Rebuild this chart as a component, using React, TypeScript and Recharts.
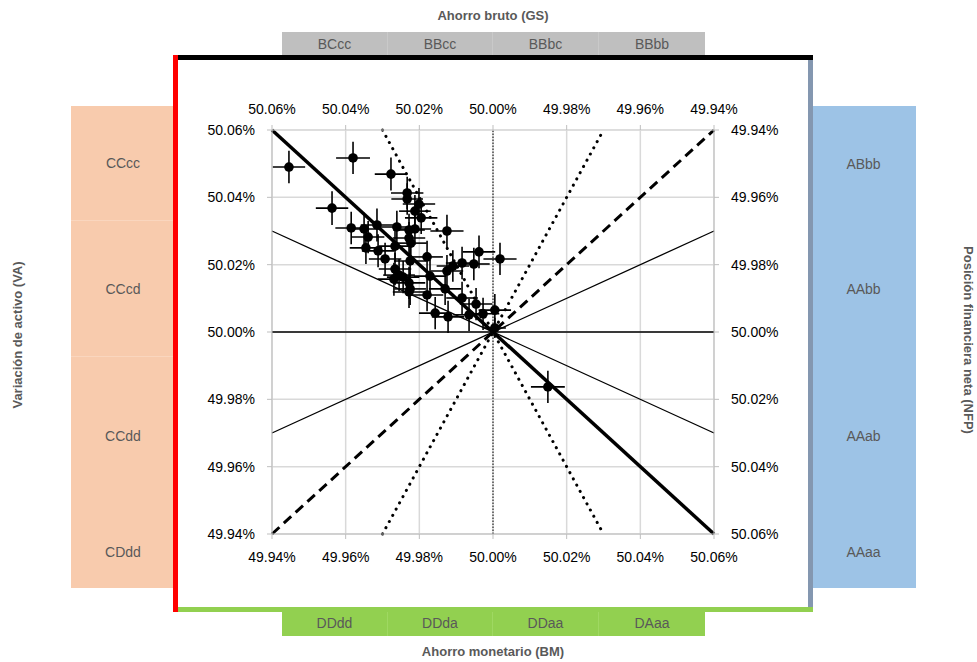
import {
  ScatterChart,
  Scatter,
  XAxis,
  YAxis,
  ZAxis,
  CartesianGrid,
  ErrorBar,
  ReferenceLine,
} from "recharts";

// tick values (same scale on all four sides, top and right run backwards)
const xTicks = [49.94, 49.96, 49.98, 50.0, 50.02, 50.04, 50.06];
const yTicks = [49.94, 49.96, 49.98, 50.0, 50.02, 50.04, 50.06];

// Ahorro monetario (BM) on x, Variación de activo (VA) on y, in %
const bmValues = [
  49.9446, 49.962, 49.9723, 49.9767, 49.9767, 49.9799, 49.9788, 49.9805,
  49.9563, 49.9615, 49.965, 49.9685, 49.9739, 49.9772, 49.9788, 49.9875,
  49.9661, 49.9772, 49.9777, 49.9655, 49.9688, 49.9734, 49.9707, 49.9821,
  49.9775, 49.9962, 50.0019, 49.9916, 49.9948, 49.9891, 49.9875, 49.9734,
  49.9745, 49.9756, 49.9731, 49.9772, 49.9775, 49.9772, 49.9829, 49.9821,
  49.987, 49.9916, 49.9954, 49.9843, 49.9878, 49.9935, 49.9973, 50.0005,
  50.0005, 50.0149,
];
const vaValues = [
  50.049, 50.0517, 50.0469, 50.0413, 50.0395, 50.038, 50.0359, 50.0339,
  50.0368, 50.0309, 50.0306, 50.0318, 50.0312, 50.0303, 50.0306, 50.03,
  50.0282, 50.0279, 50.0264, 50.025, 50.0241, 50.0255, 50.0217, 50.0223,
  50.0211, 50.0238, 50.0217, 50.0205, 50.0202, 50.0196, 50.0181, 50.0187,
  50.0169, 50.0163, 50.0157, 50.0146, 50.0128, 50.0119, 50.0166, 50.011,
  50.0128, 50.0101, 50.0083, 50.0056, 50.0045, 50.0051, 50.0054, 50.0065,
  50.0012, 49.9837,
];
const bmErrors = [
  0.0044, 0.0046, 0.0044, 0.0044, 0.0043, 0.0044, 0.0043, 0.0044,
  0.0044, 0.0043, 0.0044, 0.0044, 0.0044, 0.0043, 0.0044, 0.0045,
  0.0044, 0.0044, 0.0043, 0.0044, 0.0044, 0.0044, 0.0044, 0.0043,
  0.0044, 0.0044, 0.0045, 0.0044, 0.0043, 0.0044, 0.0044, 0.0044,
  0.0043, 0.0044, 0.0044, 0.0044, 0.0043, 0.0044, 0.0044, 0.0044,
  0.0044, 0.0043, 0.0044, 0.0044, 0.0044, 0.0043, 0.0044, 0.0044,
  0.003, 0.0046,
];
const vaErrors = [
  0.0048, 0.0048, 0.0049, 0.0048, 0.0047, 0.0048, 0.0048, 0.0048,
  0.005, 0.0048, 0.0048, 0.0049, 0.0048, 0.0048, 0.0047, 0.0048,
  0.0048, 0.0048, 0.0048, 0.0048, 0.0049, 0.0048, 0.0048, 0.0048,
  0.0048, 0.0049, 0.0048, 0.0048, 0.0048, 0.0047, 0.0048, 0.0048,
  0.0048, 0.0048, 0.0049, 0.0048, 0.0048, 0.0048, 0.0048, 0.0048,
  0.0048, 0.0048, 0.0048, 0.0048, 0.0048, 0.0048, 0.0048, 0.0048,
  0.003, 0.0048,
];

// guide lines through (50%, 50%), as end points
const mainDiagonal = [
  { x: 49.94, y: 50.06 },
  { x: 50.06, y: 49.94 },
];
const dashedDiagonal = [
  { x: 49.94, y: 49.94 },
  { x: 50.06, y: 50.06 },
];
const dottedSteepDown = [
  { x: 49.97, y: 50.06 },
  { x: 50.03, y: 49.94 },
];
const dottedSteepUp = [
  { x: 49.97, y: 49.94 },
  { x: 50.03, y: 50.06 },
];
const thinShallowDown = [
  { x: 49.94, y: 50.03 },
  { x: 50.06, y: 49.97 },
];
const thinShallowUp = [
  { x: 49.94, y: 49.97 },
  { x: 50.06, y: 50.03 },
];
const thinFlat = [
  { x: 49.94, y: 50.0 },
  { x: 50.06, y: 50.0 },
];
const centerX = 50.0;

// labels around the frame
const topCells = ["BCcc", "BBcc", "BBbc", "BBbb"];
const bottomCells = ["DDdd", "DDda", "DDaa", "DAaa"];
const leftCells = ["CCcc", "CCcd", "CCdd", "CDdd"];
const rightCells = ["ABbb", "AAbb", "AAab", "AAaa"];

const points = bmValues.map((x, i) => ({
  x,
  y: vaValues[i],
  ex: bmErrors[i],
  ey: vaErrors[i],
}));

const FONT = "'Liberation Sans', Arial, sans-serif";
const fmt = (v: number) => `${v.toFixed(2)}%`;
const tickStyle = { fill: "#000", fontSize: 14, fontFamily: FONT };
const rowEdges = [106, 221, 357, 515, 588];
const colEdges = [282, 388, 493, 599, 705];

const cellText = {
  color: "#595959",
  fontSize: 14,
  fontFamily: FONT,
  display: "flex",
  alignItems: "center",
  justifyContent: "center",
};
const titleText = {
  position: "absolute" as const,
  color: "#595959",
  fontSize: 13,
  fontWeight: 700,
  fontFamily: FONT,
  textAlign: "center" as const,
  width: 300,
  height: 20,
  lineHeight: "20px",
};

function Dot(props: any) {
  return <circle cx={props.cx} cy={props.cy} r={4.8} fill="#000" />;
}

export default function App() {
  return (
    <div
      style={{
        position: "absolute",
        left: 0,
        top: 0,
        width: 977,
        height: 662,
        background: "#fff",
        fontFamily: FONT,
      }}
    >
      {/* row / column boxes */}
      {topCells.map((t, i) => (
        <div
          key={t}
          style={{
            ...cellText,
            position: "absolute",
            left: colEdges[i],
            top: 32,
            width: colEdges[i + 1] - colEdges[i],
            height: 24,
            background: "#bfbfbf",
            borderRight: i < 3 ? "1px solid #c9c9c9" : "none",
            boxSizing: "border-box",
          }}
        >
          {t}
        </div>
      ))}
      {bottomCells.map((t, i) => (
        <div
          key={t}
          style={{
            ...cellText,
            position: "absolute",
            left: colEdges[i],
            top: 610,
            width: colEdges[i + 1] - colEdges[i],
            height: 26,
            background: "#92d050",
            borderRight: i < 3 ? "1px solid #9fd862" : "none",
            boxSizing: "border-box",
          }}
        >
          {t}
        </div>
      ))}
      {leftCells.map((t, i) => (
        <div
          key={t}
          style={{
            ...cellText,
            position: "absolute",
            left: 71,
            top: rowEdges[i],
            width: 104,
            height: rowEdges[i + 1] - rowEdges[i],
            background: "#f8cbad",
            borderBottom: i < 2 ? "1px solid #fad6be" : "none",
            boxSizing: "border-box",
          }}
        >
          {t}
        </div>
      ))}
      {rightCells.map((t, i) => (
        <div
          key={t}
          style={{
            ...cellText,
            position: "absolute",
            left: 811,
            top: rowEdges[i],
            width: 105,
            height: rowEdges[i + 1] - rowEdges[i],
            background: "#9dc3e6",
            boxSizing: "border-box",
          }}
        >
          {t}
        </div>
      ))}

      {/* frame */}
      <div style={{ position: "absolute", left: 173, top: 55, width: 640, height: 5, background: "#000" }} />
      <div style={{ position: "absolute", left: 173, top: 607, width: 640, height: 5, background: "#92d050" }} />
      <div style={{ position: "absolute", left: 173, top: 55, width: 5, height: 557, background: "#ff0000" }} />
      <div style={{ position: "absolute", left: 808, top: 60, width: 5, height: 547, background: "#8497b0" }} />

      {/* axis titles */}
      <div style={{ ...titleText, left: 343, top: 6 }}>Ahorro bruto (GS)</div>
      <div style={{ ...titleText, left: 343, top: 642 }}>Ahorro monetario (BM)</div>
      <div style={{ ...titleText, left: 18 - 150, top: 335 - 10, transform: "rotate(-90deg)" }}>
        Variación de activo (VA)
      </div>
      <div style={{ ...titleText, left: 968 - 150, top: 340 - 10, transform: "rotate(90deg)" }}>
        Posición financiera neta (NFP)
      </div>

      <div style={{ position: "absolute", left: 0, top: 0 }}>
        <ScatterChart
          width={977}
          height={662}
          margin={{ top: 100, right: 203, bottom: 98, left: 212 }}
        >
          <CartesianGrid stroke="#d9d9d9" strokeWidth={1.5} />
          <XAxis
            type="number"
            dataKey="x"
            domain={[49.94, 50.06]}
            ticks={xTicks}
            interval={0}
            tickFormatter={fmt}
            tick={tickStyle}
            tickSize={5}
            tickMargin={13}
            height={30}
            axisLine={{ stroke: "#bfbfbf" }}
            tickLine={{ stroke: "#bfbfbf" }}
            allowDataOverflow
          />
          <YAxis
            type="number"
            dataKey="y"
            domain={[49.94, 50.06]}
            ticks={yTicks}
            interval={0}
            tickFormatter={fmt}
            tick={tickStyle}
            tickSize={5}
            tickMargin={12}
            width={60}
            axisLine={{ stroke: "#bfbfbf" }}
            tickLine={{ stroke: "#bfbfbf" }}
            allowDataOverflow
          />
          <XAxis
            xAxisId="top"
            orientation="top"
            type="number"
            dataKey="x"
            domain={[49.94, 50.06]}
            reversed
            ticks={xTicks}
            interval={0}
            tickFormatter={fmt}
            tick={tickStyle}
            tickSize={5}
            tickMargin={11}
            height={30}
            axisLine={{ stroke: "#d9d9d9" }}
            tickLine={{ stroke: "#bfbfbf" }}
            allowDataOverflow
          />
          <YAxis
            yAxisId="right"
            orientation="right"
            type="number"
            dataKey="y"
            domain={[49.94, 50.06]}
            reversed
            ticks={yTicks}
            interval={0}
            tickFormatter={fmt}
            tick={tickStyle}
            tickSize={5}
            tickMargin={12}
            width={60}
            axisLine={{ stroke: "#bfbfbf" }}
            tickLine={{ stroke: "#bfbfbf" }}
            allowDataOverflow
          />
          <ZAxis range={[70, 70]} />

          <ReferenceLine x={centerX} stroke="#000" strokeWidth={1} strokeDasharray="1.5 1.5" />
          <ReferenceLine segment={thinFlat} stroke="#000" strokeWidth={1.3} />
          <ReferenceLine segment={thinShallowDown} stroke="#000" strokeWidth={1.3} />
          <ReferenceLine segment={thinShallowUp} stroke="#000" strokeWidth={1.3} />
          <ReferenceLine
            segment={dottedSteepDown}
            stroke="#000"
            strokeWidth={3}
            strokeLinecap="round"
            strokeDasharray="0.1 7"
          />
          <ReferenceLine
            segment={dottedSteepUp}
            stroke="#000"
            strokeWidth={3}
            strokeLinecap="round"
            strokeDasharray="0.1 7"
          />
          <ReferenceLine segment={dashedDiagonal} stroke="#000" strokeWidth={3} strokeDasharray="10 6" />
          <ReferenceLine segment={mainDiagonal} stroke="#000" strokeWidth={3.5} />

          <Scatter data={points} shape={<Dot />} isAnimationActive={false}>
            <ErrorBar dataKey="ex" direction="x" width={0} stroke="#000" strokeWidth={1.6} />
            <ErrorBar dataKey="ey" direction="y" width={0} stroke="#000" strokeWidth={1.6} />
          </Scatter>
          <Scatter
            data={[{ x: 50, y: 50 }]}
            xAxisId="top"
            yAxisId="right"
            shape={() => <g />}
            isAnimationActive={false}
          />
        </ScatterChart>
      </div>
    </div>
  );
}
